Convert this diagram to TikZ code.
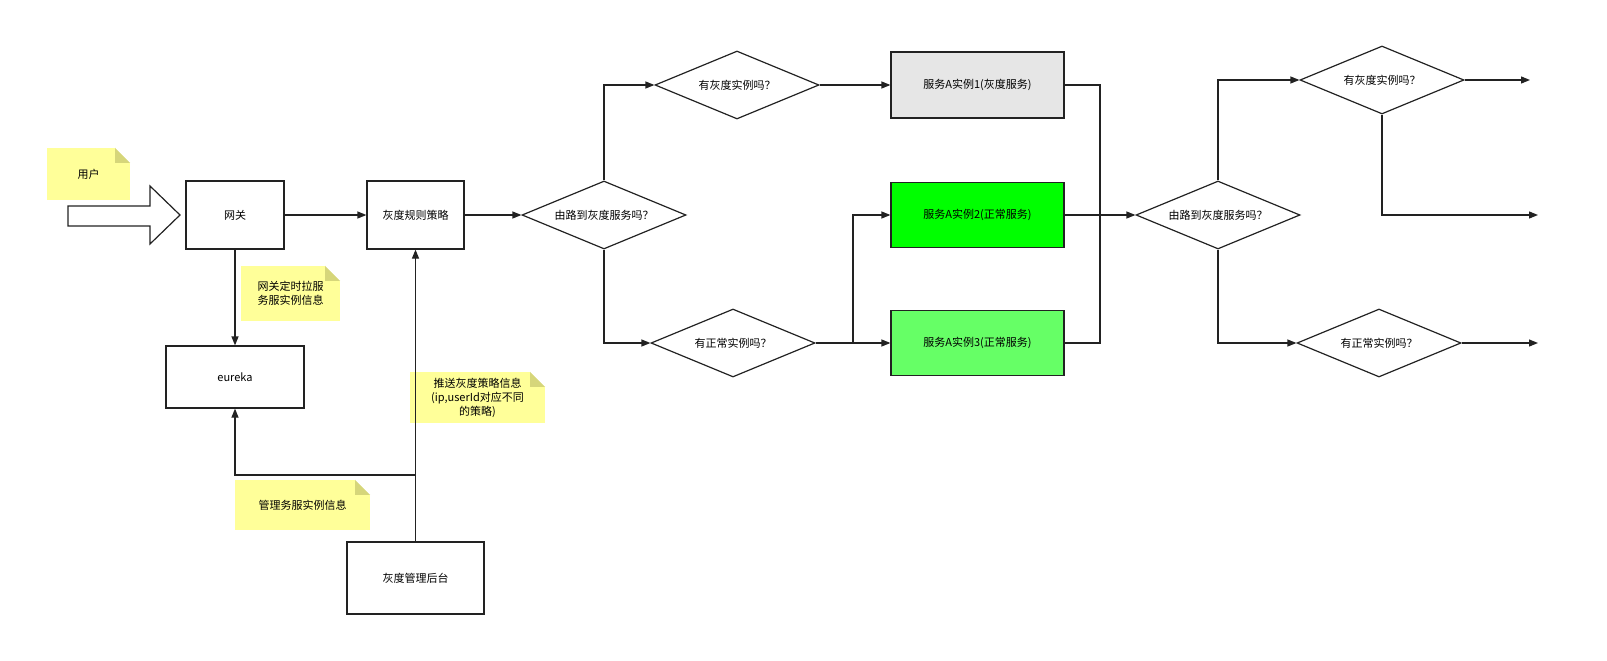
\documentclass[tikz,border=0pt]{standalone}
\usepackage{fontspec}
\setmainfont{Noto Sans CJK SC}
\usetikzlibrary{shapes.geometric,arrows.meta,positioning}
\definecolor{noteyellow}{RGB}{255,255,153}
\definecolor{notefold}{RGB}{214,214,122}
\definecolor{linegray}{RGB}{34,34,34}
\tikzset{
  box/.style={draw=linegray,line width=1.2pt,fill=white,font=\fontsize{11}{13}\selectfont,inner sep=0pt},
  dia/.style={diamond,aspect=2.4,draw=linegray,line width=1.2pt,fill=white,font=\fontsize{11}{13}\selectfont,inner sep=0pt,minimum width=164pt,minimum height=68pt},
  note/.style={fill=noteyellow,font=\fontsize{11}{14}\selectfont,align=center,inner sep=0pt},
  conn/.style={draw=linegray,line width=1.2pt},
  arr/.style={conn,-{Triangle[length=9pt,width=7pt]}}
}
\newcommand{\fold}[1]{\fill[notefold] ([xshift=-15pt]#1.north east) -- ([xshift=-15pt,yshift=-15pt]#1.north east) -- ([yshift=-15pt]#1.north east) -- cycle;%
  \fill[white] ([xshift=-15pt]#1.north east) -- (#1.north east) -- ([yshift=-15pt]#1.north east) -- cycle;}
\begin{document}
\begin{tikzpicture}[x=1pt,y=-1pt]
% notes
\node[note,minimum width=83pt,minimum height=52pt] (user) at (88.5,174) {用户};
\fold{user}
\node[note,minimum width=99pt,minimum height=55pt] (pull) at (290.5,293.5) {网关定时拉服\\务服实例信息};
\fold{pull}
\node[note,minimum width=135pt,minimum height=51pt] (push) at (477.5,397.5) {推送灰度策略信息\\(ip,userId对应不同\\的策略)};
\fold{push}
\node[note,minimum width=135pt,minimum height=50pt] (mgr) at (302.5,505) {管理务服实例信息};
\fold{mgr}
% big arrow
\draw[conn,fill=white] (68,206) -- (150,206) -- (150,186) -- (180,215) -- (150,244) -- (150,226) -- (68,226) -- cycle;
% boxes
\node[box,minimum width=98pt,minimum height=68pt] (gw) at (235,215) {网关};
\node[box,minimum width=97pt,minimum height=68pt] (rule) at (415.5,215) {灰度规则策略};
\node[box,minimum width=138pt,minimum height=62pt] (eureka) at (235,377) {eureka};
\node[box,minimum width=137pt,minimum height=72pt] (admin) at (415.5,578) {灰度管理后台};
\node[box,fill={rgb,255:red,230;green,230;blue,230},minimum width=173pt,minimum height=66pt] (s1) at (977.5,85) {服务A实例1(灰度服务)};
\node[box,fill={rgb,255:red,0;green,255;blue,0},minimum width=173pt,minimum height=65pt] (s2) at (977.5,215) {服务A实例2(正常服务)};
\node[box,fill={rgb,255:red,102;green,255;blue,102},minimum width=173pt,minimum height=65pt] (s3) at (977.5,343) {服务A实例3(正常服务)};
% diamonds
\node[dia] (route) at (604,215) {由路到灰度服务吗？};
\node[dia] (gray) at (737,85) {有灰度实例吗？};
\node[dia] (norm) at (733,343) {有正常实例吗？};
\node[dia] (route2) at (1218,215) {由路到灰度服务吗？};
\node[dia] (gray2) at (1382,80) {有灰度实例吗？};
\node[dia] (norm2) at (1379,343) {有正常实例吗？};
\coordinate (o1) at (1530,80);
\coordinate (o2) at (1538,215);
\coordinate (o3) at (1538,343);
\coordinate (split) at (416,475);
\coordinate (fork) at (853,343);
% connectors
\draw[arr] (gw) -- (rule);
\draw[arr] (rule) -- (route);
\draw[arr] (route.north) |- (gray.west);
\draw[arr] (route.south) |- (norm.west);
\draw[arr] (gray) -- (s1);
\draw[arr] (norm) -- (s3);
\draw[arr] (fork) |- (s2.west);
\draw[arr] (s2) -- (route2);
\draw[conn] (s1.east) -| (1100,215);
\draw[conn] (s3.east) -| (1100,215);
\draw[arr] (route2.north) |- (gray2.west);
\draw[arr] (route2.south) |- (norm2.west);
\draw[arr] (gray2) -- (o1);
\draw[arr] (gray2.south) |- (o2);
\draw[arr] (norm2) -- (o3);
\draw[arr] (gw) -- (eureka);
\draw[arr] (admin) -- (rule);
\draw[arr] (split) -| (eureka.south);
\pgfresetboundingbox
\useasboundingbox (0,0) rectangle (1607,661);
\end{tikzpicture}
\end{document}
